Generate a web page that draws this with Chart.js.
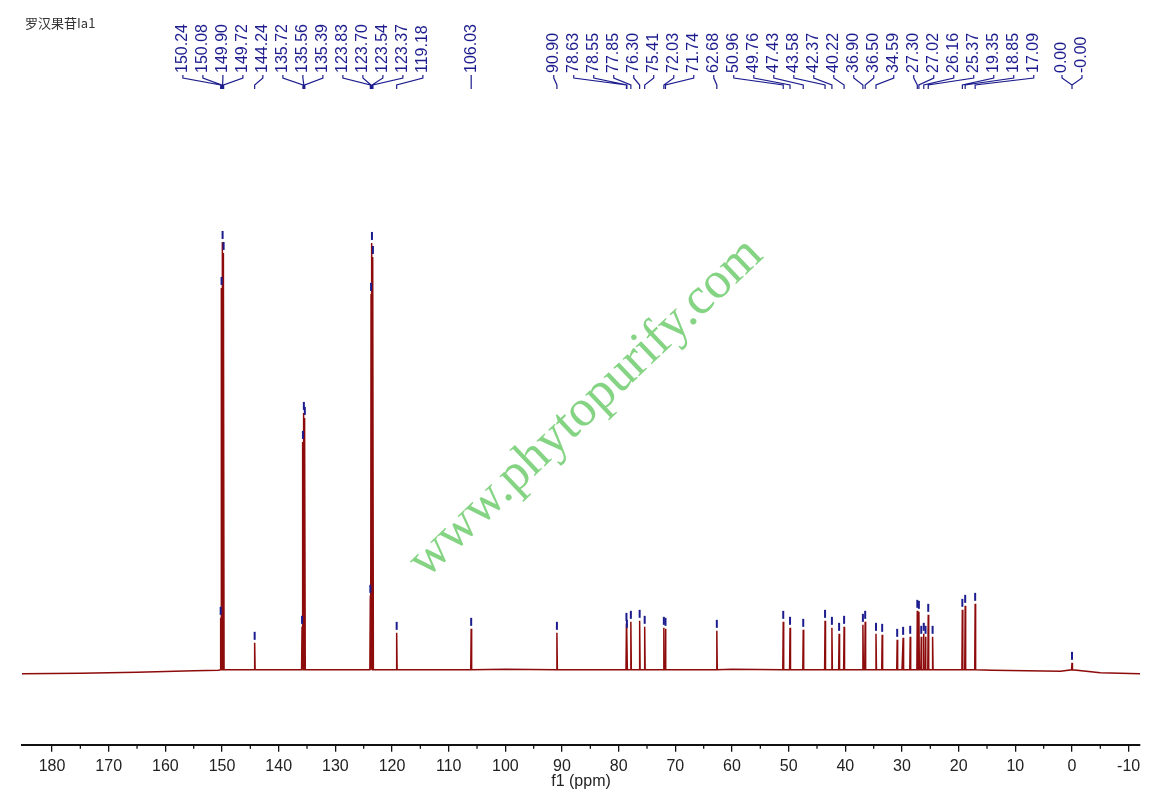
<!DOCTYPE html>
<html>
  <head>
    <meta charset="utf-8">
    <script src="https://cdn.jsdelivr.net/npm/chart.js@4/dist/chart.umd.js"></script>
    <style>
      html, body { margin: 0; padding: 0; background: #fff; }
      #wrap { width: 1160px; height: 796px; }
    </style>
  </head>

  <body>
    <div id="wrap">
      <canvas id="spec"></canvas>
    </div>
    <script>
      const sampleName = '罗汉果苷Ia1';
      const axisTitle = 'f1 (ppm)';

      // picked peaks: shift (ppm) and intensity (arbitrary, baseline = 0)
      const peakPpm = [
        150.24, 150.08, 149.90, 149.72, 144.24,
        135.88, 135.72, 135.56, 135.39,
        123.83, 123.70, 123.54, 123.37, 119.18, 106.03, 90.90,
        78.63, 78.55, 77.85, 76.30, 75.41, 72.03, 71.74, 62.68,
        50.96, 49.76, 47.43, 43.58, 42.37, 41.10, 40.22,
        36.90, 36.50, 34.59, 33.50, 30.85, 29.80, 28.55,
        27.30, 27.02, 26.60, 26.16, 25.85, 25.37, 24.60,
        19.35, 18.85, 17.09, 0.00
      ];
      const peakVal = [
        52, 382, 428, 417, 27,
        43, 228, 257, 252,
        74, 376, 427, 413, 37, 41, 37,
        46, 39, 48, 49, 43, 42, 41, 39,
        48, 42, 40, 49, 42, 36, 43,
        45, 48, 36, 35, 30, 32, 33,
        59, 58, 33, 36, 33, 55, 33,
        60, 64, 66, 7
      ];

      // slow baseline drift
      const baselinePpm = [185.3, 175, 165, 155, 150.6, 140, 100, 60, 30, 14, 8, 2, -5, -12];
      const baselineVal = [-4, -3.5, -2.5, -1, -0.5, 0, 0.5, 0.5, 0, -0.5, -1, -1.5, -3, -4];

      // peak labels printed along the top
      const peakLabels = [
        '150.24', '150.08', '149.90', '149.72', '144.24',
        '135.72', '135.56', '135.39', '123.83', '123.70', '123.54', '123.37', '119.18',
        '106.03', '90.90',
        '78.63', '78.55', '77.85', '76.30', '75.41', '72.03', '71.74', '62.68',
        '50.96', '49.76', '47.43', '43.58', '42.37', '40.22', '36.90', '36.50', '34.59',
        '27.30', '27.02', '26.16', '25.37', '19.35', '18.85', '17.09', '0.00', '-0.00'
      ];

      const majorTicks = [180, 170, 160, 150, 140, 130, 120, 110, 100, 90, 80, 70, 60, 50, 40, 30, 20, 10, 0, -10];
      const minorTicks = [175, 165, 155, 145, 135, 125, 115, 105, 95, 85, 75, 65, 55, 45, 35, 25, 15, 5, -5];

      const FOOT = 0.08;
      const spectrum = [];
      baselinePpm.forEach((p, i) => spectrum.push({ x: p, y: baselineVal[i] }));
      peakPpm.forEach((p, i) => {
        spectrum.push({ x: p + FOOT, y: 0 }, { x: p, y: peakVal[i] }, { x: p - FOOT, y: 0 });
      });
      spectrum.sort((a, b) => b.x - a.x);

      const BLUE = '#1c1c8e';
      const LABEL_GAP = 20;

      // spread labels so they do not overlap, keeping clusters centred on their peaks
      function spreadLabels(xs, gap) {
        let groups = xs.map((x, i) => ({ ids: [i], sum: x }));
        let merged = true;
        while (merged) {
          merged = false;
          for (let i = 0; i < groups.length - 1; i++) {
            const a = groups[i], b = groups[i + 1];
            const aEnd = a.sum / a.ids.length + (a.ids.length - 1) * gap / 2;
            const bStart = b.sum / b.ids.length - (b.ids.length - 1) * gap / 2;
            if (bStart - aEnd < gap) {
              groups.splice(i, 2, { ids: a.ids.concat(b.ids), sum: a.sum + b.sum });
              merged = true;
              break;
            }
          }
        }
        const out = [];
        groups.forEach(g => {
          const c = g.sum / g.ids.length;
          g.ids.forEach((id, k) => { out[id] = c + (k - (g.ids.length - 1) / 2) * gap; });
        });
        return out;
      }

      const decor = {
        id: 'decor',
        beforeDraw(chart) {
          const ctx = chart.ctx;
          ctx.save();
          ctx.fillStyle = '#fff';
          ctx.fillRect(0, 0, chart.width, chart.height);
          // watermark
          ctx.translate(586, 408);
          ctx.rotate(-43.6 * Math.PI / 180);
          ctx.font = '52px "Liberation Serif", serif';
          ctx.fillStyle = '#84d484';
          ctx.textAlign = 'center';
          ctx.textBaseline = 'middle';
          ctx.fillText('www.phytopurify.com', 0, 0);
          ctx.restore();
        },
        afterDraw(chart) {
          const ctx = chart.ctx;
          const xs = chart.scales.x, ys = chart.scales.y;
          const area = chart.chartArea;
          ctx.save();

          // sample name
          ctx.font = '13px "Noto Sans CJK SC", sans-serif';
          ctx.fillStyle = '#333';
          ctx.textAlign = 'left';
          ctx.textBaseline = 'middle';
          ctx.fillText(sampleName, 25, 23);

          // minor ticks
          ctx.strokeStyle = '#111';
          ctx.lineWidth = 1.3;
          minorTicks.forEach(v => {
            const x = xs.getPixelForValue(v);
            ctx.beginPath();
            ctx.moveTo(x, area.bottom);
            ctx.lineTo(x, area.bottom + 4);
            ctx.stroke();
          });

          // axis title
          ctx.font = '16px "Liberation Sans", Arial, sans-serif';
          ctx.fillStyle = '#222';
          ctx.textAlign = 'center';
          ctx.fillText(axisTitle, (area.left + area.right) / 2, 782);

          // peak-pick markers
          ctx.strokeStyle = BLUE;
          ctx.lineWidth = 2;
          peakPpm.forEach((p, i) => {
            const x = xs.getPixelForValue(p);
            const y = ys.getPixelForValue(peakVal[i]);
            ctx.beginPath();
            ctx.moveTo(x, y - 11);
            ctx.lineTo(x, y - 3);
            ctx.stroke();
          });

          // labels + connectors
          const px = peakLabels.map(s => xs.getPixelForValue(parseFloat(s)));
          const lx = spreadLabels(px, LABEL_GAP);
          ctx.lineWidth = 1.2;
          ctx.beginPath();
          peakLabels.forEach((s, i) => {
            ctx.moveTo(lx[i], 75);
            ctx.lineTo(lx[i], 78);
            ctx.lineTo(px[i], 85);
            ctx.lineTo(px[i], 89);
          });
          ctx.stroke();
          ctx.font = '16px "Liberation Sans", Arial, sans-serif';
          ctx.fillStyle = BLUE;
          ctx.textAlign = 'left';
          ctx.textBaseline = 'middle';
          peakLabels.forEach((s, i) => {
            ctx.save();
            ctx.translate(lx[i], 73);
            ctx.rotate(-Math.PI / 2);
            ctx.fillText(s, 0, 0);
            ctx.restore();
          });
          ctx.restore();
        }
      };

      new Chart(document.getElementById('spec').getContext('2d'), {
        type: 'line',
        data: {
          datasets: [
            {
              data: spectrum,
              borderColor: '#8e0b0b',
              borderWidth: 1.5,
              pointRadius: 0,
              tension: 0,
              fill: false,
            },
          ],
        },
        options: {
          responsive: true,
          maintainAspectRatio: false,
          animation: false,
          layout: {
            padding: { left: 22, right: 20, top: 100, bottom: 15 },
          },
          plugins: {
            legend: { display: false },
            tooltip: { enabled: false },
          },
          scales: {
            x: {
              type: 'linear',
              reverse: true,
              min: -12,
              max: 185.3,
              afterBuildTicks: (scale) => {
                scale.ticks = majorTicks.map((v) => ({ value: v }));
              },
              ticks: {
                autoSkip: false,
                maxRotation: 0,
                padding: 5,
                color: '#222',
                font: { family: 'Liberation Sans', size: 16 },
                callback: (v) => String(v),
              },
              grid: {
                drawOnChartArea: false,
                drawTicks: true,
                tickLength: 7,
                color: '#111',
                lineWidth: 1.3,
              },
              border: { display: true, color: '#111', width: 2 },
            },
            y: {
              display: false,
              min: -75,
              max: 570,
            },
          },
        },
        plugins: [decor],
      });
    </script>
  </body>
</html>
